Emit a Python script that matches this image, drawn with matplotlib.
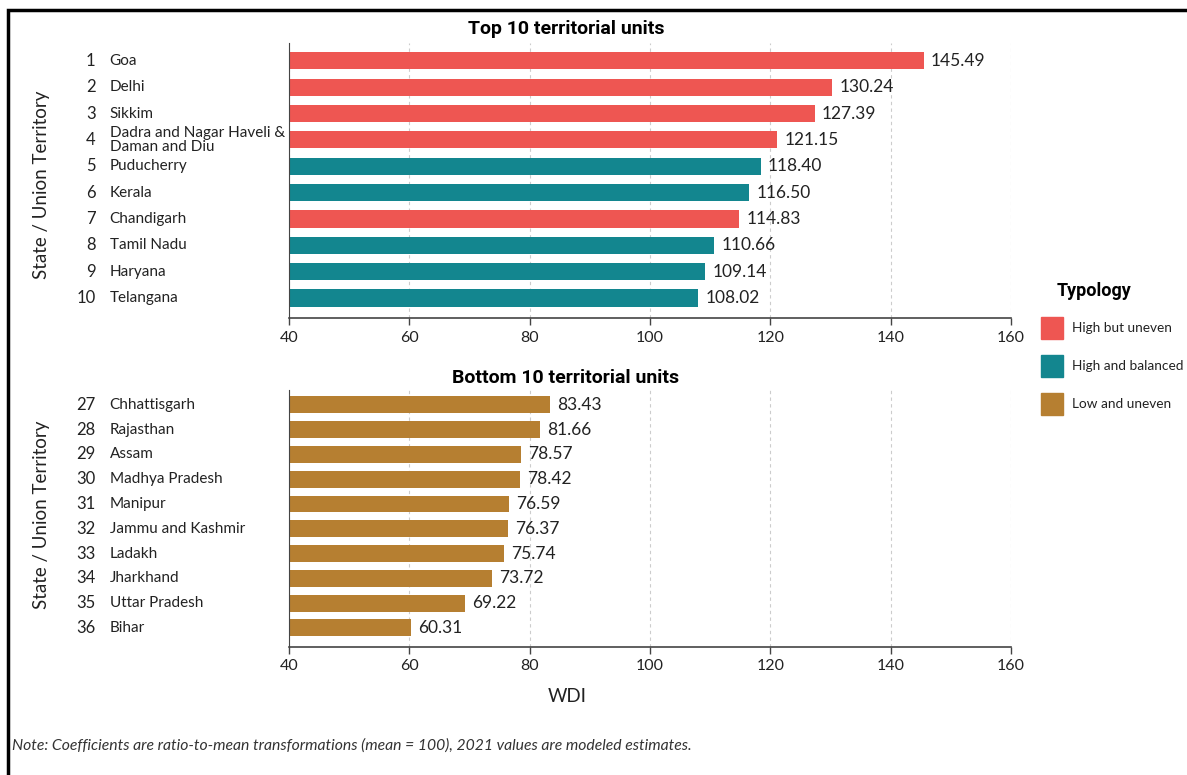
import matplotlib.pyplot as plt
from matplotlib.patches import Rectangle
from matplotlib.transforms import blended_transform_factory

# data
top_rank = [1, 2, 3, 4, 5, 6, 7, 8, 9, 10]
top_names = ['Goa', 'Delhi', 'Sikkim', 'Dadra and Nagar Haveli &\nDaman and Diu', 'Puducherry',
             'Kerala', 'Chandigarh', 'Tamil Nadu', 'Haryana', 'Telangana']
top_wdi = [145.49, 130.24, 127.39, 121.15, 118.40, 116.50, 114.83, 110.66, 109.14, 108.02]
top_type = ['uneven', 'uneven', 'uneven', 'uneven', 'balanced',
            'balanced', 'uneven', 'balanced', 'balanced', 'balanced']

bot_rank = [27, 28, 29, 30, 31, 32, 33, 34, 35, 36]
bot_names = ['Chhattisgarh', 'Rajasthan', 'Assam', 'Madhya Pradesh', 'Manipur',
             'Jammu and Kashmir', 'Ladakh', 'Jharkhand', 'Uttar Pradesh', 'Bihar']
bot_wdi = [83.43, 81.66, 78.57, 78.42, 76.59, 76.37, 75.74, 73.72, 69.22, 60.31]
bot_type = ['low'] * 10

colors = {'uneven': '#EE5652', 'balanced': '#13868F', 'low': '#B67F31'}
legend_labels = [('uneven', 'High but uneven'), ('balanced', 'High and balanced'), ('low', 'Low and uneven')]

plt.rcParams['font.family'] = ['Lato', 'DejaVu Sans']
bold_font = ['Roboto', 'DejaVu Sans']

fig = plt.figure(figsize=(11.87, 7.75), dpi=100)
W, H = 1187, 775

def px(x0, y0, x1, y1):
    return [x0 / W, 1 - y1 / H, (x1 - x0) / W, (y1 - y0) / H]

ax_top = fig.add_axes(px(289, 43, 1011, 318))
ax_bot = fig.add_axes(px(289, 390, 1011, 647))


def draw(ax, ranks, names, vals, types, ylim, bar_h):
    ys = list(range(len(vals)))
    ax.barh(ys, [v - 40 for v in vals], left=40, height=bar_h,
            color=[colors[t] for t in types], zorder=2)
    for y, v in zip(ys, vals):
        ax.text(v + 1.2, y, f'{v:.2f}', va='center', ha='left', fontsize=12.5, color='#222222')
    tr = blended_transform_factory(ax.transAxes, ax.transData)
    for y, r, n in zip(ys, ranks, names):
        ax.text(-0.268, y, str(r), transform=tr, ha='right', va='center', fontsize=12, color='#222222')
        ax.text(-0.2485, y, n, transform=tr, ha='left', va='center', fontsize=11,
                color='#222222', linespacing=0.95)
    ax.set_xlim(40, 160)
    ax.set_ylim(*ylim)
    ax.set_xticks([40, 60, 80, 100, 120, 140, 160])
    ax.set_yticks([])
    ax.tick_params(axis='x', direction='out', length=5, width=1, colors='#444444',
                   labelsize=11.5, labelcolor='#222222', pad=4)
    ax.grid(axis='x', linestyle=(0, (3, 3)), color='#cccccc', linewidth=0.8, zorder=0)
    for s in ['top', 'right']:
        ax.spines[s].set_visible(False)
    ax.spines['left'].set_color('#444444')
    ax.spines['bottom'].set_color('#444444')
    ax.spines['bottom'].set_linewidth(1.2)


draw(ax_top, top_rank, top_names, top_wdi, top_type, (9.76, -0.68), 0.65)
draw(ax_bot, bot_rank, bot_names, bot_wdi, bot_type, (9.77, -0.6), 0.68)

# titles and axis labels
fig.text(566 / W, 1 - 29 / H, 'Top 10 territorial units', ha='center', va='center',
         fontsize=14, fontweight='bold', family=bold_font)
fig.text(566 / W, 1 - 378 / H, 'Bottom 10 territorial units', ha='center', va='center',
         fontsize=14, fontweight='bold', family=bold_font)
fig.text(42 / W, 1 - 185 / H, 'State / Union Territory', rotation=90, ha='center', va='center',
         fontsize=13.5, color='#222222')
fig.text(42 / W, 1 - 515 / H, 'State / Union Territory', rotation=90, ha='center', va='center',
         fontsize=13.5, color='#222222')
fig.text(567 / W, 1 - 697 / H, 'WDI', ha='center', va='center', fontsize=13.5, color='#222222')
fig.text(12 / W, 1 - 746 / H,
         'Note: Coefficients are ratio-to-mean transformations (mean = 100), 2021 values are modeled estimates.',
         ha='left', va='center', fontsize=11.3, style='italic', color='#333333')

# legend
fig.text(1094 / W, 1 - 291 / H, 'Typology', ha='center', va='center',
         fontsize=13, fontweight='bold', family=bold_font)
for i, (key, lab) in enumerate(legend_labels):
    yc = 328 + i * 38
    fig.patches.append(Rectangle((1041 / W, 1 - (yc + 11) / H), 22 / W, 22 / H,
                                 transform=fig.transFigure, color=colors[key]))
    fig.text(1072 / W, 1 - yc / H, lab, ha='left', va='center', fontsize=9.8,
             color='#222222')

# frame around the picture (cut off on right and bottom)
fig.patches.append(Rectangle((8 / W, -0.05), 1.2, 1 - 10 / H + 0.05, transform=fig.transFigure,
                             fill=False, edgecolor='black', linewidth=2.5))

fig.savefig('out.png', dpi=100)
